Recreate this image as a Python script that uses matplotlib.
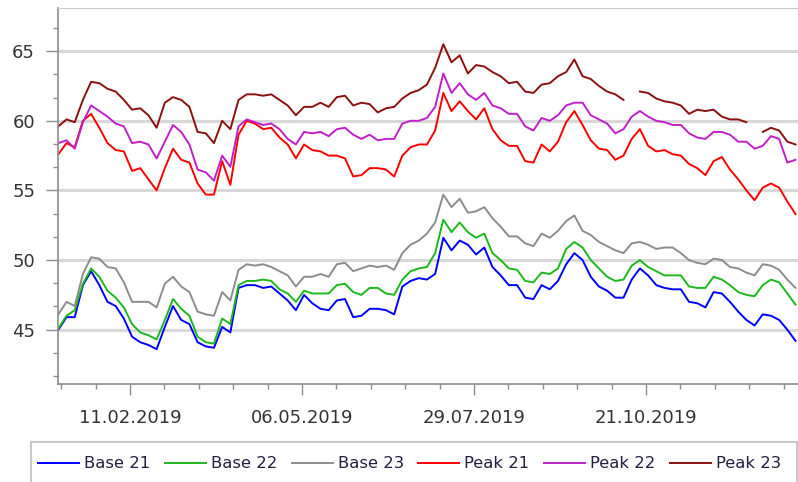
import matplotlib
matplotlib.use('Agg')
import matplotlib.pyplot as plt
import matplotlib.dates as mdates
from matplotlib.ticker import MultipleLocator, FixedLocator
from matplotlib.patches import Rectangle
import numpy as np
import pandas as pd

# данные (шаг 4 дня)
dates = pd.date_range('2019-01-07', periods=91, freq='4D')

base21 = [45.0, 45.9, 45.9, 48.2, 49.2, 48.2, 47.0, 46.7, 45.8, 44.5,
          44.1, 43.9, 43.6, 45.2, 46.7, 45.7, 45.4, 44.1, 43.8, 43.7,
          45.2, 44.8, 48.0, 48.2, 48.2, 48.0, 48.1, 47.6, 47.1, 46.4,
          47.5, 46.9, 46.5, 46.4, 47.1, 47.2, 45.9, 46.0, 46.5, 46.5,
          46.4, 46.1, 48.1, 48.5, 48.7, 48.6, 49.0, 51.6, 50.7, 51.4,
          51.1, 50.4, 50.9, 49.5, 48.9, 48.2, 48.2, 47.3, 47.2, 48.2,
          47.9, 48.5, 49.7, 50.5, 50.0, 48.8, 48.1, 47.8, 47.3, 47.3,
          48.6, 49.4, 48.9, 48.2, 48.0, 47.9, 47.9, 47.0, 46.9, 46.6,
          47.7, 47.6, 47.0, 46.3, 45.7, 45.3, 46.1, 46.0, 45.7, 45.0,
          44.2]
base22 = [45.1, 46.0, 46.4, 48.3, 49.4, 48.8, 47.8, 47.3, 46.6, 45.4,
          44.8, 44.6, 44.3, 45.7, 47.2, 46.5, 46.0, 44.5, 44.1, 44.0,
          45.8, 45.4, 48.2, 48.5, 48.5, 48.6, 48.5, 47.9, 47.6, 47.0,
          47.8, 47.6, 47.6, 47.6, 48.2, 48.3, 47.7, 47.5, 48.0, 48.0,
          47.6, 47.5, 48.6, 49.2, 49.4, 49.5, 50.5, 52.9, 52.0, 52.7,
          52.0, 51.6, 51.9, 50.5, 50.0, 49.4, 49.3, 48.5, 48.4, 49.1,
          49.0, 49.4, 50.8, 51.3, 50.9, 50.0, 49.4, 48.8, 48.5, 48.6,
          49.6, 50.0, 49.5, 49.2, 48.9, 48.9, 48.9, 48.1, 48.0, 48.0,
          48.8, 48.6, 48.2, 47.7, 47.5, 47.4, 48.2, 48.6, 48.4, 47.6,
          46.8]
base23 = [46.1, 47.0, 46.7, 49.0, 50.2, 50.1, 49.5, 49.4, 48.4, 47.0,
          47.0, 47.0, 46.6, 48.3, 48.8, 48.1, 47.7, 46.3, 46.1, 46.0,
          47.7, 47.1, 49.3, 49.7, 49.6, 49.7, 49.5, 49.2, 48.9, 48.1,
          48.8, 48.8, 49.0, 48.8, 49.7, 49.8, 49.2, 49.4, 49.6, 49.5,
          49.6, 49.3, 50.5, 51.1, 51.4, 51.9, 52.7, 54.7, 53.8, 54.4,
          53.4, 53.5, 53.8, 53.0, 52.4, 51.7, 51.7, 51.2, 51.0, 51.9,
          51.6, 52.1, 52.8, 53.2, 52.1, 51.8, 51.3, 51.0, 50.7, 50.5,
          51.2, 51.3, 51.1, 50.8, 50.9, 50.9, 50.5, 50.0, 49.8, 49.7,
          50.1, 50.0, 49.5, 49.4, 49.1, 48.9, 49.7, 49.6, 49.3, 48.6,
          48.0]
peak21 = [57.6, 58.4, 58.1, 60.0, 60.5, 59.5, 58.4, 57.9, 57.8, 56.4,
          56.6, 55.8, 55.0, 56.6, 58.0, 57.2, 57.0, 55.5, 54.7, 54.7,
          57.1, 55.4, 59.0, 60.0, 59.8, 59.4, 59.5, 58.8, 58.3, 57.3,
          58.3, 57.9, 57.8, 57.5, 57.5, 57.3, 56.0, 56.1, 56.6, 56.6,
          56.5, 56.0, 57.5, 58.1, 58.3, 58.3, 59.3, 62.0, 60.7, 61.4,
          60.7, 60.1, 60.9, 59.4, 58.6, 58.2, 58.2, 57.1, 57.0, 58.3,
          57.8, 58.5, 59.9, 60.7, 59.7, 58.6, 58.0, 57.9, 57.2, 57.5,
          58.7, 59.4, 58.2, 57.8, 57.9, 57.6, 57.5, 56.9, 56.6, 56.1,
          57.1, 57.4, 56.5, 55.8, 55.0, 54.3, 55.2, 55.5, 55.2, 54.2,
          53.3]
peak22 = [58.4, 58.6, 58.0, 59.9, 61.1, 60.7, 60.3, 59.8, 59.6, 58.4,
          58.5, 58.3, 57.3, 58.5, 59.7, 59.2, 58.3, 56.5, 56.3, 55.7,
          57.5, 56.7, 59.6, 60.1, 59.9, 59.7, 59.8, 59.4, 58.7, 58.3,
          59.2, 59.1, 59.2, 58.9, 59.4, 59.5, 59.0, 58.7, 59.0, 58.6,
          58.7, 58.7, 59.8, 60.0, 60.0, 60.2, 61.0, 63.4, 62.0, 62.7,
          61.9, 61.5, 62.0, 61.1, 60.9, 60.5, 60.5, 59.6, 59.3, 60.2,
          60.0, 60.4, 61.1, 61.3, 61.3, 60.4, 60.1, 59.8, 59.1, 59.4,
          60.3, 60.7, 60.3, 60.0, 59.9, 59.7, 59.7, 59.1, 58.8, 58.7,
          59.2, 59.2, 59.0, 58.5, 58.5, 58.0, 58.2, 58.9, 58.7, 57.0,
          57.2]
peak23 = [59.6, 60.1, 59.9, 61.5, 62.8, 62.7, 62.3, 62.1, 61.5, 60.8,
          60.9, 60.4, 59.5, 61.3, 61.7, 61.5, 61.0, 59.2, 59.1, 58.4,
          60.0, 59.4, 61.5, 61.9, 61.9, 61.8, 61.9, 61.5, 61.1, 60.4,
          61.0, 61.0, 61.3, 61.0, 61.7, 61.8, 61.1, 61.3, 61.2, 60.6,
          60.9, 61.0, 61.6, 62.0, 62.2, 62.6, 63.8, 65.5, 64.2, 64.7,
          63.4, 64.0, 63.9, 63.5, 63.2, 62.7, 62.8, 62.1, 62.0, 62.6,
          62.7, 63.2, 63.5, 64.4, 63.2, 63.0, 62.5, 62.1, 61.9, 61.5,
          np.nan, 62.1, 62.0, 61.6, 61.4, 61.3, 61.1, 60.5, 60.8, 60.7,
          60.8, 60.3, 60.1, 60.1, 59.9, np.nan, 59.2, 59.5, 59.3, 58.5,
          58.3]

names = ['Base 21', 'Base 22', 'Base 23', 'Peak 21', 'Peak 22', 'Peak 23']
colors = ['#0000ff', '#1cb81c', '#8c8c8c', '#ff0000', '#c020c8', '#8b1010']
tick_labels = ['11.02.2019', '06.05.2019', '29.07.2019', '21.10.2019']

fig = plt.figure(figsize=(7.98, 4.82), dpi=100)
ax = fig.add_axes([58 / 798, 1 - 384 / 482, 1 - 58 / 798, (384 - 8) / 482])

for name, vals, color in zip(names, [base21, base22, base23, peak21, peak22, peak23], colors):
    ax.plot(dates, vals, color=color, lw=1.4, label=name)

ax.set_ylim(41.1, 68.1)
ax.set_xlim(pd.Timestamp('2019-01-06 20:00'), pd.Timestamp('2020-01-03 05:00'))

# ось Y
ax.yaxis.set_major_locator(MultipleLocator(5))
ax.yaxis.set_minor_locator(MultipleLocator(5 / 3))
ax.grid(axis='y', which='major', color='#d8d8d8', lw=2.2)
ax.set_axisbelow(True)

# ось X
major = pd.to_datetime(tick_labels, format='%d.%m.%Y')
ax.set_xticks(major)
ax.set_xticklabels(tick_labels)
m0 = mdates.date2num(major[0])
ax.xaxis.set_minor_locator(FixedLocator(m0 + 16.8 * np.arange(-2, 20)))

ax.tick_params(axis='both', which='both', colors='#8c8c8c', labelcolor='#333333', labelsize=13)
ax.tick_params(axis='x', which='major', length=8, width=1, pad=10)
ax.tick_params(axis='x', which='minor', length=3.5, width=1)
ax.tick_params(axis='y', which='major', length=8.5, width=1, pad=8)
ax.tick_params(axis='y', which='minor', length=3.5, width=1)

ax.spines['right'].set_visible(False)
ax.spines['left'].set_color('#8c8c8c')
ax.spines['bottom'].set_color('#8c8c8c')
ax.spines['left'].set_linewidth(1.2)
ax.spines['bottom'].set_linewidth(1.2)
ax.spines['top'].set_color('#cccccc')
ax.spines['top'].set_linestyle((0, (2, 1)))

# легенда внизу в рамке
fig.patches.append(Rectangle((31 / 798, -0.05), (797 - 31) / 798, 1 - 442 / 482 + 0.05,
                             transform=fig.transFigure, fill=False,
                             edgecolor='#c8c8c8', lw=1.5))
handles, labels = ax.get_legend_handles_labels()
fig.legend(handles, labels, loc='center', bbox_to_anchor=(409.5 / 798, 1 - 464 / 482),
           ncol=6, frameon=False, fontsize=11.8, handlelength=2.5, handletextpad=0.3,
           columnspacing=0.9, labelcolor='#202040')

fig.savefig('out.png', dpi=100)
